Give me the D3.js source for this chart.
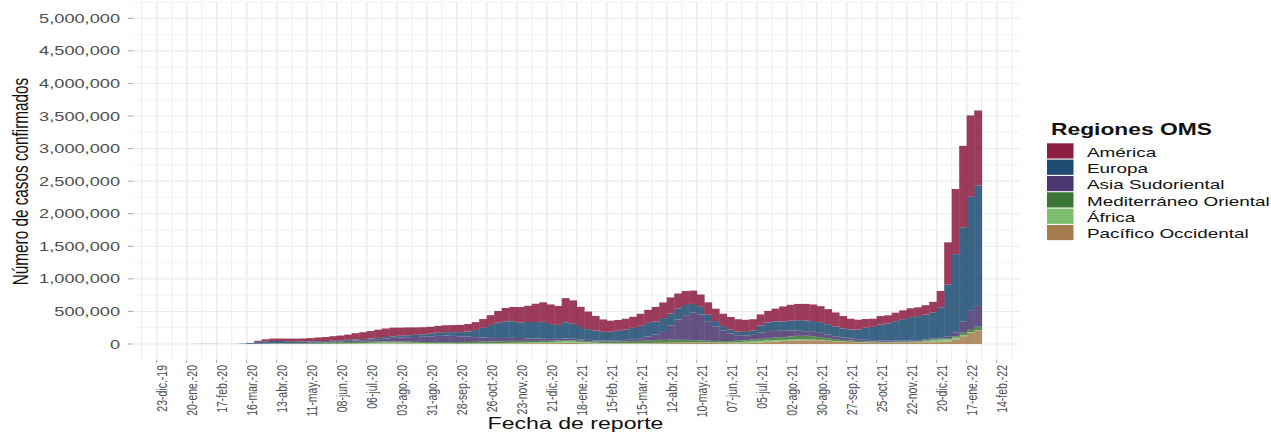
<!DOCTYPE html>
<html lang="es">
<head>
<meta charset="utf-8">
<title>Casos confirmados por región OMS</title>
<script src="https://cdn.jsdelivr.net/npm/d3@7"></script>
<style>
  html, body { margin: 0; padding: 0; background: #fff; }
  svg { display: block; }
  text { font-family: "Liberation Sans", Arial, sans-serif; }
</style>
</head>
<body>
<svg id="chart" width="1271" height="433"></svg>
<script>
// Casos diarios promedio por semana (miles), semanas que empiezan el lunes 30-dic-2019
const primeraSemana = new Date(2019, 11, 30);

const pacifico = [
    0, 0, 0, 0.3, 2.4, 3.1, 4.0, 1.0, 0.6, 0.4,
    0.6, 1.5, 2.5, 3.5, 4.5, 4.5, 3.0, 2.0, 1.5, 1.5,
    1.5, 1.5, 2.0, 2.5, 3.0, 3.0, 4.0, 5.0, 6.0, 8.0,
    9, 10, 10, 9, 8, 7, 6, 6, 6, 6,
    6, 6, 6, 6, 7, 9, 11, 11, 12, 12,
    13, 13, 14, 17, 16, 13, 11, 9, 7, 6,
    7, 7, 8, 9, 10, 11, 13, 15, 17, 18,
    19, 20, 20, 18, 15, 13, 13, 14, 16, 22,
    30, 38, 45, 50, 55, 58, 58, 55, 48, 40,
    34, 30, 26, 23, 21, 20, 20, 22, 24, 26,
    27, 28, 28, 30, 40, 70, 120, 170, 200
];
const africa = [
    0, 0, 0, 0, 0, 0, 0, 0, 0, 0,
    0, 0.1, 0.3, 0.6, 0.8, 1.0, 1.3, 1.6, 2.0, 2.5,
    3.0, 3.5, 4.5, 5.5, 7, 8.5, 10, 12, 14, 15,
    14, 13, 11, 9, 8, 7, 6, 5, 5, 4.5,
    4.5, 5, 5, 5, 5.5, 6, 7, 8, 9, 11,
    14, 18, 22, 25, 24, 20, 15, 11, 8, 7,
    6, 6, 6, 6, 6, 6, 5, 5, 5, 5,
    5, 5, 5, 6, 8, 11, 15, 20, 25, 27,
    25, 22, 19, 17, 15, 13, 11, 9, 7, 6,
    5, 4, 3.5, 3, 3, 2.5, 2.5, 2.5, 2.5, 3,
    8, 20, 35, 38, 35, 28, 20, 14, 10
];
const mediterraneo = [
    0, 0, 0, 0, 0, 0, 0, 0, 0, 0.2,
    0.8, 1.5, 2.5, 3.5, 4.5, 5, 5.5, 6.5, 8, 10,
    12, 15, 18, 21, 22, 22, 21, 20, 19, 18,
    16, 15, 14, 14, 15, 16, 17, 18, 18, 19,
    21, 23, 25, 27, 29, 30, 30, 28, 26, 23,
    21, 19, 18, 18, 17, 17, 18, 19, 21, 23,
    26, 28, 31, 34, 38, 42, 45, 45, 43, 40,
    36, 30, 25, 23, 22, 21, 22, 24, 27, 30,
    34, 38, 42, 50, 55, 55, 50, 42, 35, 28,
    23, 19, 16, 14, 13, 12, 11, 11, 11, 11,
    11, 11, 12, 13, 16, 22, 32, 45, 55
];
const asiaSudoriental = [
    0, 0, 0, 0, 0, 0, 0, 0, 0, 0.05,
    0.1, 0.2, 0.5, 1.2, 2, 2.5, 3, 3.5, 4.5, 5.5,
    7, 8.5, 11, 13, 16, 19, 23, 28, 35, 45,
    55, 62, 70, 75, 80, 88, 96, 100, 95, 88,
    80, 72, 62, 55, 51, 48, 46, 45, 40, 37,
    32, 28, 25, 24, 23, 21, 19, 17, 16, 17,
    19, 22, 28, 40, 60, 85, 135, 220, 310, 380,
    420, 400, 300, 220, 160, 115, 85, 70, 72, 95,
    110, 115, 105, 90, 80, 70, 68, 65, 55, 45,
    37, 30, 27, 24, 21, 19, 17, 15, 14, 13,
    12, 12, 12, 13, 20, 60, 170, 280, 320
];
const europa = [
    0, 0, 0, 0, 0, 0, 0, 0, 0.3, 1.5,
    5, 12, 28, 33, 35, 33, 30, 27, 24, 21,
    19, 17, 16, 16, 17, 18, 18, 19, 20, 22,
    25, 27, 30, 33, 37, 42, 48, 53, 58, 65,
    80, 110, 150, 200, 235, 255, 255, 240, 250, 255,
    260, 230, 215, 250, 230, 190, 165, 150, 135, 135,
    145, 160, 175, 190, 210, 200, 200, 185, 170, 155,
    135, 115, 100, 85, 70, 60, 55, 58, 70, 110,
    130, 135, 135, 150, 160, 165, 165, 165, 160, 150,
    140, 140, 150, 185, 205, 245, 265, 300, 330, 360,
    370, 380, 400, 470, 800, 1200, 1450, 1750, 1850
];
const america = [
    0, 0, 0, 0, 0, 0, 0, 0, 0, 0.05,
    0.3, 2, 16, 30, 36, 38, 40, 42, 45, 50,
    57, 62, 68, 72, 80, 95, 105, 115, 125, 130,
    132, 125, 120, 115, 110, 105, 105, 105, 108, 112,
    115, 120, 135, 150, 180, 205, 220, 235, 250, 280,
    300, 300, 290, 370, 360, 310, 270, 225, 190, 170,
    165, 165, 170, 185, 200, 225, 240, 245, 230, 215,
    205, 190, 190, 190, 190, 195, 190, 185, 170, 170,
    180, 195, 230, 245, 250, 255, 255, 245, 230, 215,
    190, 165, 150, 135, 125, 130, 125, 130, 135, 135,
    135, 145, 160, 250, 650, 1000, 1250, 1250, 1150
];

// Leyenda (de arriba a abajo) y colores
const regiones = ["América", "Europa", "Asia Sudoriental", "Mediterráneo Oriental", "África", "Pacífico Occidental"];
const claves = ["ame", "eur", "sea", "med", "afr", "pac"];
const colores = ["#8c1c40", "#1d4b72", "#4b3670", "#3b7634", "#7cbd6e", "#a67c4e"];

// Etiquetas de los ejes
const etiquetasX = [
    "23-dic.-19", "20-ene.-20", "17-feb.-20", "16-mar.-20", "13-abr.-20", "11-may.-20",
    "08-jun.-20", "06-jul.-20", "03-ago.-20", "31-ago.-20", "28-sep.-20", "26-oct.-20",
    "23-nov.-20", "21-dic.-20", "18-ene.-21", "15-feb.-21", "15-mar.-21", "12-abr.-21",
    "10-may.-21", "07-jun.-21", "05-jul.-21", "02-ago.-21", "30-ago.-21", "27-sep.-21",
    "25-oct.-21", "22-nov.-21", "20-dic.-21", "17-ene.-22", "14-feb.-22"
];
const ticksY = [0, 500000, 1000000, 1500000, 2000000, 2500000, 3000000, 3500000, 4000000, 4500000, 5000000];

// The picture is stretched horizontally, so text is widened to match
const SX = 1.4;

const es = d3.timeFormatLocale({
    dateTime: "%A, %e de %B de %Y, %X",
    date: "%d/%m/%Y",
    time: "%H:%M:%S",
    periods: ["AM", "PM"],
    days: ["domingo", "lunes", "martes", "miércoles", "jueves", "viernes", "sábado"],
    shortDays: ["dom", "lun", "mar", "mié", "jue", "vie", "sáb"],
    months: ["enero", "febrero", "marzo", "abril", "mayo", "junio", "julio", "agosto", "septiembre", "octubre", "noviembre", "diciembre"],
    shortMonths: ["ene.", "feb.", "mar.", "abr.", "may.", "jun.", "jul.", "ago.", "sep.", "oct.", "nov.", "dic."]
});
const parseFecha = es.parse("%d-%b-%y");
const fechasX = etiquetasX.map(parseFecha);

const svg = d3.select("#chart");
const panel = { left: 133, right: 1020, top: 2, bottom: 360 };

const x = d3.scaleTime()
    .domain([fechasX[0], fechasX[fechasX.length - 1]])
    .range([156.7, 996.7]);

const y = d3.scaleLinear()
    .domain([0, 5000000])
    .range([344, 18.3]);

const color = d3.scaleOrdinal().domain(claves).range(colores);

svg.append("rect").attr("width", 1271).attr("height", 433).attr("fill", "#fff");

// Grid lines
const grid = svg.append("g").attr("stroke", "#ebebeb").attr("fill", "none");

const menoresX = [d3.timeDay.offset(fechasX[0], -14)]
    .concat(fechasX.map(d => d3.timeDay.offset(d, 14)))
    .filter(d => x(d) > panel.left && x(d) < panel.right);
const menoresY = [-250000].concat(ticksY.map(v => v + 250000))
    .filter(v => y(v) >= panel.top && y(v) <= panel.bottom);

grid.selectAll(".minor-y").data(menoresY).join("line")
    .attr("x1", panel.left).attr("x2", panel.right)
    .attr("y1", d => y(d)).attr("y2", d => y(d))
    .attr("stroke-width", 0.6);
grid.selectAll(".minor-x").data(menoresX).join("line")
    .attr("x1", d => x(d)).attr("x2", d => x(d))
    .attr("y1", panel.top).attr("y2", panel.bottom)
    .attr("stroke-width", 0.9);
grid.selectAll(".major-y").data(ticksY).join("line")
    .attr("x1", panel.left).attr("x2", panel.right)
    .attr("y1", d => y(d)).attr("y2", d => y(d))
    .attr("stroke-width", 1.1);
grid.selectAll(".major-x").data(fechasX).join("line")
    .attr("x1", d => x(d)).attr("x2", d => x(d))
    .attr("y1", panel.top).attr("y2", panel.bottom)
    .attr("stroke-width", 1.6);

// Build table and stack it (Pacífico at the bottom, América on top)
const filas = pacifico.map((_, i) => ({
    fecha: d3.timeDay.offset(primeraSemana, 7 * i),
    pac: pacifico[i] * 1000,
    afr: africa[i] * 1000,
    med: mediterraneo[i] * 1000,
    sea: asiaSudoriental[i] * 1000,
    eur: europa[i] * 1000,
    ame: america[i] * 1000
}));

const series = d3.stack().keys(claves.slice().reverse())(filas);

const barras = svg.append("g").attr("opacity", 0.86);

barras.selectAll("g.serie")
    .data(series)
    .join("g")
    .attr("class", "serie")
    .attr("fill", d => color(d.key))
    .selectAll("rect")
    .data(d => d)
    .join("rect")
    .attr("x", d => x(d.data.fecha))
    .attr("width", d => x(d3.timeDay.offset(d.data.fecha, 7)) - x(d.data.fecha) + 0.4)
    .attr("y", d => y(d[1]))
    .attr("height", d => Math.max(0, y(d[0]) - y(d[1])));

// Y axis
const ejeY = svg.append("g");
ejeY.selectAll("line").data(ticksY).join("line")
    .attr("x1", 128).attr("x2", 133)
    .attr("y1", d => y(d)).attr("y2", d => y(d))
    .attr("stroke", "#a8a8a8").attr("stroke-width", 1);
ejeY.selectAll("text").data(ticksY).join("text")
    .attr("transform", d => `translate(120,${y(d)}) scale(${SX},1)`)
    .attr("dy", "0.35em")
    .attr("text-anchor", "end")
    .style("font-size", "13px")
    .style("fill", "#4d4d4d")
    .text(d => d3.format(",")(d));

// X axis
const ejeX = svg.append("g");
ejeX.selectAll("line").data(fechasX).join("line")
    .attr("x1", d => x(d)).attr("x2", d => x(d))
    .attr("y1", panel.bottom).attr("y2", panel.bottom + 3)
    .attr("stroke", "#a8a8a8").attr("stroke-width", 1);
ejeX.selectAll("text").data(etiquetasX).join("text")
    .attr("transform", (d, i) => `translate(${x(fechasX[i])},365) scale(${SX},1) rotate(-90)`)
    .attr("dy", "0.72em")
    .attr("text-anchor", "end")
    .style("font-size", "10.5px")
    .style("fill", "#4d4d4d")
    .text(d => d);

// Axis titles
svg.append("text")
    .attr("transform", `translate(575.5,428.5) scale(${SX},1)`)
    .attr("text-anchor", "middle")
    .style("font-size", "16.5px")
    .style("fill", "#111")
    .text("Fecha de reporte");

svg.append("text")
    .attr("transform", `translate(27.5,181.5) scale(${SX},1) rotate(-90)`)
    .attr("text-anchor", "middle")
    .style("font-size", "15.3px")
    .style("fill", "#111")
    .text("Número de casos confirmados");

// Legend
const leyenda = svg.append("g");
leyenda.append("text")
    .attr("transform", `translate(1051,135) scale(${SX},1)`)
    .style("font-size", "16.3px")
    .style("font-weight", "bold")
    .style("fill", "#111")
    .text("Regiones OMS");

const items = leyenda.selectAll("g.item")
    .data(regiones)
    .join("g")
    .attr("class", "item")
    .attr("transform", (d, i) => `translate(1047,${143.3 + i * 16.33})`);

items.append("rect")
    .attr("width", 26.5)
    .attr("height", 15.2)
    .attr("fill", (d, i) => colores[i]);

items.append("text")
    .attr("transform", `translate(40,13.3) scale(${SX},1)`)
    .style("font-size", "13.5px")
    .style("fill", "#111")
    .text(d => d);
</script>
</body>
</html>
